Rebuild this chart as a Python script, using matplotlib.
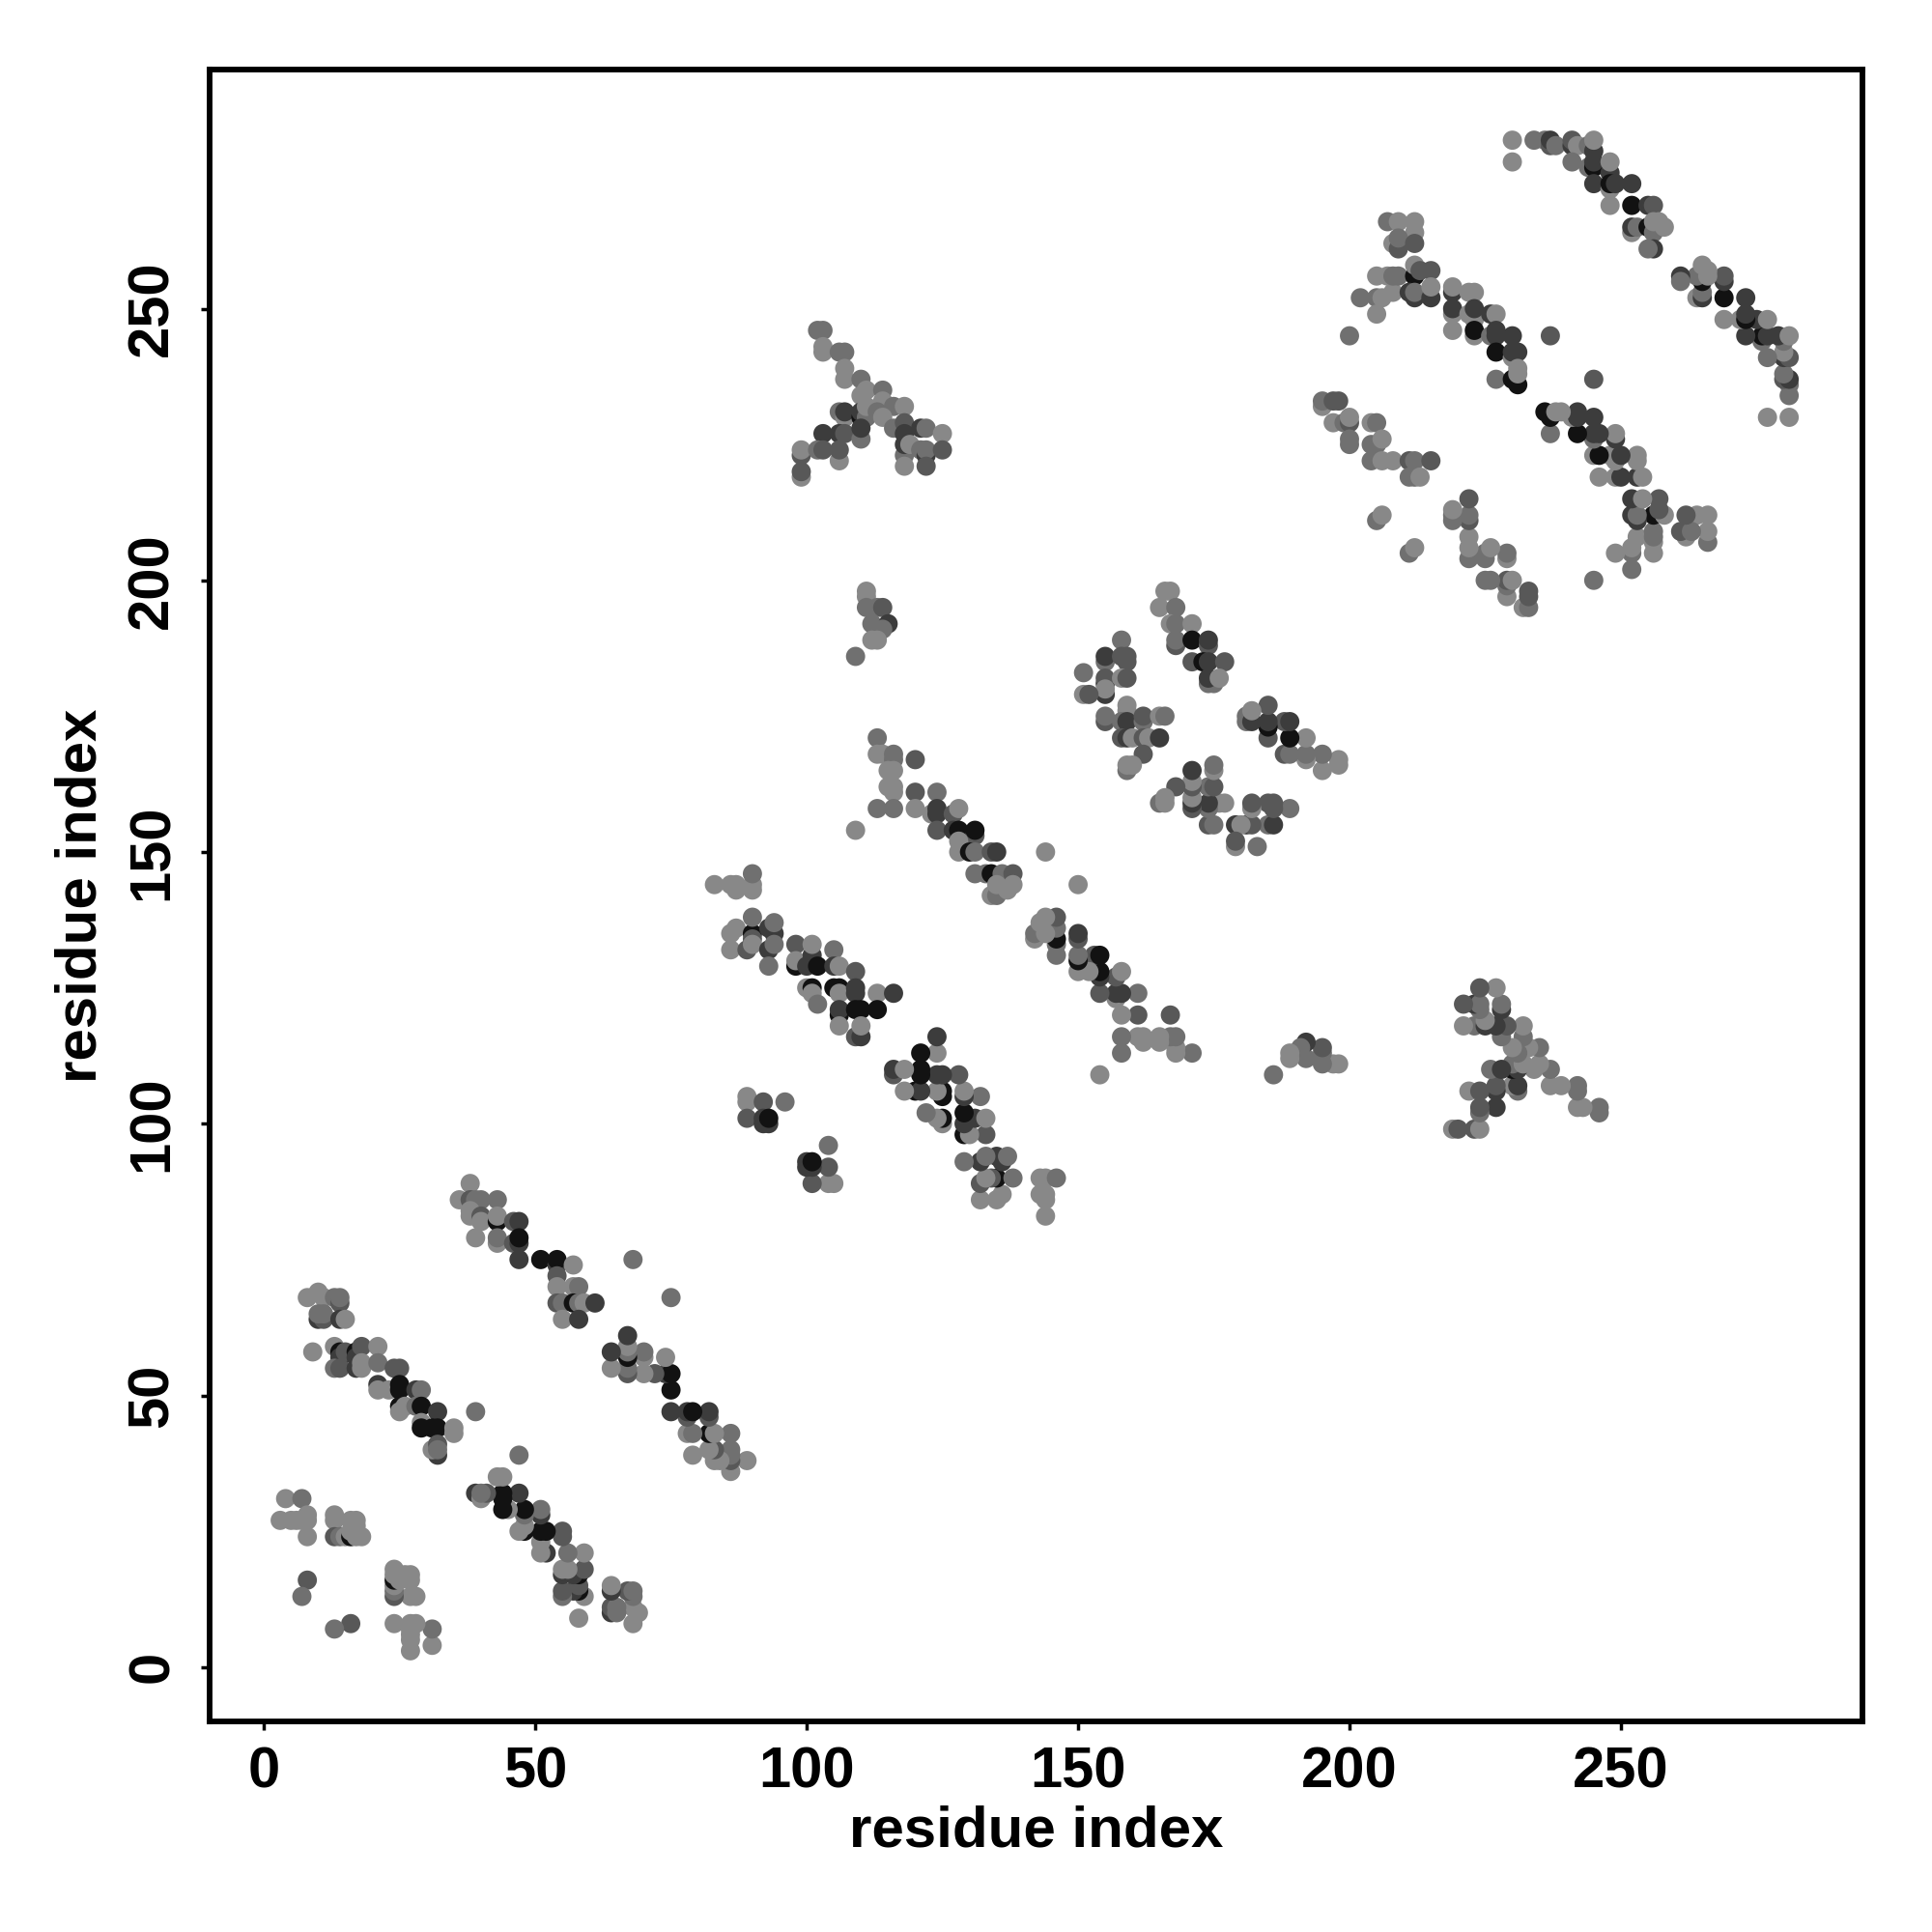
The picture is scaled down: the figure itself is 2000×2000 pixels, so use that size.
import matplotlib
matplotlib.use('Agg')
import matplotlib.pyplot as plt

# grey levels of the dots
G = 136
M = 112
N = 88
D = 60
K = 18

# contacts above the diagonal (i, j, grey), the map is symmetric
end_cluster = [
    (4, 31, G), (7, 31, M), (3, 27, G), (5, 27, G), (6, 27, G), (7, 27, G), (8, 27, G), (8, 28, G),
    (8, 24, G), (13, 28, G), (13, 27, G), (13, 24, N), (14, 24, M), (15, 24, G), (16, 24, K), (16, 25, G),
    (17, 24, G), (17, 27, G), (16, 27, G), (18, 24, G), (17, 26, G), (8, 16, N), (7, 13, M),
]
strand_1 = [
    (8, 68, G), (10, 69, G), (11, 68, G), (13, 68, M), (14, 67, N), (14, 68, M), (10, 64, D), (11, 64, N),
    (10, 65, M), (11, 65, M), (14, 64, D), (15, 64, G),
    (9, 58, G), (13, 59, G), (14, 58, K), (14, 57, D), (15, 58, N), (17, 58, K), (17, 57, D), (18, 59, N), (21, 59, G),
    (13, 55, M), (14, 55, N), (17, 55, D), (18, 55, G), (18, 56, G), (21, 56, M),
    (21, 52, D), (21, 51, G), (24, 55, N), (25, 55, N), (23, 51, G), (25, 52, K), (25, 51, K), (28, 51, D), (29, 51, M),
    (25, 48, K), (26, 48, G), (25, 47, G), (28, 48, M), (29, 48, K), (29, 45, G), (29, 44, K),
    (32, 47, D), (31, 44, K), (32, 44, K), (35, 44, G), (35, 43, G), (39, 47, M),
    (32, 39, D), (31, 40, G), (32, 41, N), (32, 40, M),
]
strand_2 = [
    (38, 89, G), (36, 86, G), (38, 86, N), (39, 86, M), (40, 86, M), (43, 86, M), (38, 84, G), (38, 83, G),
    (39, 83, G), (40, 83, N), (40, 82, G), (43, 82, K), (43, 83, G), (46, 82, N), (47, 82, D),
    (39, 79, G), (43, 78, G), (43, 79, M), (46, 78, N), (47, 78, D), (47, 79, K),
    (47, 75, D), (51, 75, K), (54, 74, D), (54, 75, K), (57, 74, G), (54, 72, N), (54, 70, G), (57, 70, G), (58, 70, M),
    (54, 67, N), (55, 67, M), (57, 67, K), (58, 67, M), (59, 67, G), (61, 67, D), (55, 64, G), (58, 64, D), (68, 75, M),
]
side_cluster = [
    (89, 105, G), (89, 104, G), (92, 104, N), (96, 104, M), (89, 101, N), (92, 100, D), (92, 101, D), (93, 100, D), (93, 101, K),
]
strand_3 = [
    (83, 144, G), (86, 144, G), (87, 144, G), (87, 143, G), (90, 143, G), (90, 144, G), (90, 146, M),
    (86, 135, G), (87, 136, G), (90, 135, K), (90, 134, N), (90, 138, M), (93, 136, D), (94, 135, D), (94, 137, M),
    (86, 132, G), (89, 132, N), (90, 133, G), (93, 132, D), (94, 133, M), (93, 129, M),
    (98, 133, N), (98, 129, K), (98, 130, G), (101, 131, D), (101, 133, G), (100, 129, D), (102, 129, K), (105, 132, M),
    (105, 129, D), (106, 129, G), (109, 128, N), (100, 125, G), (101, 125, K), (101, 124, G), (102, 122, M),
    (105, 125, K), (106, 125, K), (106, 124, G), (109, 125, D), (109, 124, D), (113, 124, G), (116, 124, D),
    (106, 120, K), (106, 121, D), (109, 121, K), (110, 121, K), (113, 121, K), (106, 118, G), (109, 116, N), (110, 116, D), (110, 118, G),
]
strand_4 = [
    (113, 171, M), (113, 168, G), (114, 168, G), (116, 167, M), (116, 168, M), (120, 167, N), (115, 165, G), (116, 165, G),
    (115, 162, G), (116, 161, G), (116, 162, G), (113, 158, M), (116, 158, M), (120, 161, N), (124, 161, M), (120, 158, G),
    (109, 154, G), (123, 157, G), (124, 157, D), (124, 158, D), (127, 157, N), (128, 158, G), (124, 154, N), (127, 154, D),
    (128, 154, K), (131, 153, N), (131, 154, K), (128, 152, G), (128, 150, G), (130, 150, K), (131, 150, M), (134, 150, N), (135, 150, D),
    (131, 146, M), (133, 146, M), (134, 146, K), (136, 146, M), (138, 146, N), (134, 142, G), (135, 142, M), (135, 144, G), (137, 143, G), (138, 144, G),
    (144, 150, G),
]
mid_left = [
    (158, 189, M), (155, 185, M), (155, 186, D), (158, 186, N), (159, 185, N), (159, 186, N), (151, 183, M), (155, 181, D), (155, 182, N),
    (158, 182, G), (159, 182, N), (155, 179, D), (155, 180, G), (151, 179, G), (152, 179, N),
    (155, 174, N), (155, 175, M), (159, 176, G), (159, 177, G), (158, 174, M), (159, 174, D), (162, 174, M), (162, 175, N), (165, 175, G), (166, 175, M),
    (158, 171, N), (159, 171, D), (160, 171, G), (162, 171, N), (163, 171, G), (165, 171, D), (162, 168, N), (159, 165, M), (159, 166, G), (160, 166, G),
]
mid_upper = [
    (166, 198, G), (167, 198, G), (165, 195, G), (168, 195, M), (167, 192, G), (168, 192, M), (171, 192, G),
    (168, 188, N), (168, 189, M), (171, 189, K), (174, 188, N), (174, 189, D), (171, 185, N), (173, 185, K), (174, 185, D), (177, 185, N),
    (174, 181, M), (175, 181, M), (174, 182, D), (176, 182, G),
]
far_cluster = [
    (109, 186, M), (111, 198, G), (111, 197, G), (111, 195, M), (113, 195, M), (114, 195, N), (112, 192, M), (115, 192, D),
    (114, 191, M), (113, 190, M), (112, 189, G), (113, 189, G),
]
top_cluster = [
    (102, 246, M), (103, 246, M), (103, 243, G), (103, 242, G), (106, 242, M), (107, 242, M), (107, 239, G), (107, 237, G),
    (110, 237, M), (110, 234, G), (111, 235, G), (114, 235, M), (114, 233, G), (116, 232, M), (118, 232, G),
    (106, 231, M), (107, 230, G), (107, 231, D), (110, 230, K), (110, 231, D), (111, 230, M), (111, 232, G), (113, 231, M), (114, 230, G),
    (103, 227, D), (106, 227, D), (107, 227, N), (110, 226, M), (110, 228, D), (116, 228, M), (118, 229, N), (118, 227, D), (121, 228, D), (122, 228, M), (125, 227, G),
    (99, 223, N), (99, 224, G), (102, 224, M), (103, 224, N), (106, 222, G), (106, 224, N), (118, 223, M), (118, 225, D), (119, 225, G), (121, 224, M), (122, 223, D), (122, 224, M),
    (125, 224, N), (99, 219, G), (99, 220, N), (118, 221, G), (122, 221, N),
]
sheet_1 = [
    (207, 266, M), (209, 266, G), (212, 266, G), (212, 264, G), (208, 262, G), (209, 261, N), (209, 263, M), (212, 262, N),
    (202, 252, M), (205, 256, G), (205, 252, M), (205, 249, G), (206, 252, G), (208, 253, G), (207, 256, G), (208, 256, M), (209, 256, M),
    (212, 256, K), (212, 258, G), (213, 257, N), (215, 257, N), (211, 253, D), (212, 252, D), (212, 253, M), (215, 252, D), (215, 254, G),
    (200, 245, M), (219, 253, D), (219, 254, G), (219, 249, G), (219, 250, D), (219, 246, G), (222, 253, G), (223, 253, G),
    (222, 249, G), (223, 248, G), (223, 250, D), (226, 249, D), (227, 249, G), (223, 245, G), (223, 246, K), (226, 245, M), (227, 245, D), (227, 246, D), (230, 245, D),
    (227, 242, K), (230, 241, G), (230, 242, D), (231, 242, D), (231, 239, G), (227, 237, M), (230, 237, K), (231, 236, K), (231, 238, G), (237, 245, N),
]
sheet_2 = [
    (195, 232, G), (195, 233, M), (197, 233, N), (198, 233, N), (197, 229, G), (199, 229, M), (200, 229, N), (200, 230, G),
    (200, 225, M), (200, 226, M), (204, 229, G), (205, 229, M), (204, 225, M), (205, 225, M), (206, 226, G),
    (204, 222, M), (206, 222, G), (208, 222, G), (211, 222, N), (212, 222, M), (215, 222, N), (211, 219, M), (212, 219, M), (213, 219, G),
    (205, 211, M), (206, 212, G),
]
sheet_3 = [
    (230, 281, G), (230, 277, G), (234, 281, M), (236, 281, M), (237, 280, N), (237, 281, D), (238, 280, M), (241, 280, D), (241, 281, N), (242, 280, G),
    (244, 280, M), (245, 279, D), (245, 281, G), (241, 277, M), (244, 276, M), (245, 276, K), (245, 277, D), (248, 275, D), (248, 277, G),
    (245, 273, D), (248, 272, G), (248, 273, K), (249, 273, D), (252, 273, D), (248, 269, G), (252, 269, K), (255, 269, D), (256, 269, N),
    (252, 264, G), (252, 265, D), (253, 265, M), (255, 265, K), (256, 264, M), (256, 266, G), (257, 266, G), (258, 265, G), (256, 261, D), (255, 261, M),
]
contact_groups = [end_cluster, strand_1, strand_2, side_cluster, strand_3, strand_4, mid_left, mid_upper,
                  far_cluster, top_cluster, sheet_1, sheet_2, sheet_3]

ticks = [0, 50, 100, 150, 200, 250]

plt.rcParams['font.family'] = ['Liberation Sans', 'DejaVu Sans']
plt.rcParams['font.weight'] = 'bold'

fig = plt.figure(figsize=(20, 20), dpi=100)
ax = fig.add_axes([217 / 2000, 218 / 2000, 1711 / 2000, 1710 / 2000])

for group in contact_groups:
    xs = [c[0] for c in group] + [c[1] for c in group]
    ys = [c[1] for c in group] + [c[0] for c in group]
    shades = [str(c[2] / 255) for c in group] * 2
    ax.scatter(xs, ys, s=205, c=shades, linewidths=0, zorder=2)

ax.set_xlim(-10, 294.5)
ax.set_ylim(-10, 294)
ax.set_xticks(ticks)
ax.set_yticks(ticks)
ax.tick_params(axis='x', length=6.5, width=2.5, labelsize=43, pad=12)
ax.tick_params(axis='y', length=6.5, width=2.5, labelsize=43, pad=16)
plt.setp(ax.get_yticklabels(), rotation=90, va='center')
for spine in ax.spines.values():
    spine.set_linewidth(4.2)

ax.set_xlabel('residue index', fontsize=43.2, fontweight='bold', labelpad=4)
ax.set_ylabel('residue index', fontsize=43.2, fontweight='bold', labelpad=14)

fig.savefig('out.png', dpi=100, facecolor='white')
